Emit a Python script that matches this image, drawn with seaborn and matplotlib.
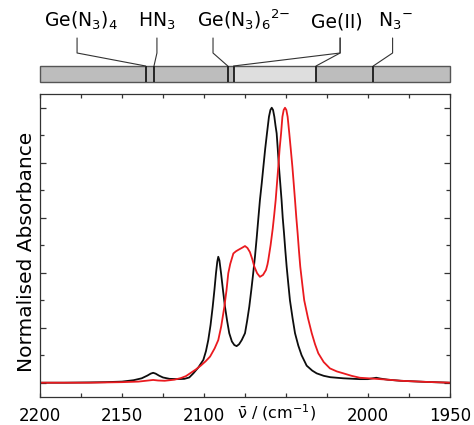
import pandas as pd
import matplotlib
matplotlib.use("Agg")
import matplotlib.pyplot as plt
import seaborn as sns
from matplotlib.patches import Rectangle
from matplotlib.ticker import MultipleLocator

# ---------------------------
# spectra (wavenumber / cm-1, normalised absorbance)
# ---------------------------
black_wn = [2200, 2185, 2170, 2160, 2150, 2143, 2138, 2134.5, 2132.5, 2131, 2129.5, 2127.5,
            2125, 2121, 2116, 2112, 2109, 2106.5, 2103.5, 2100.4, 2098.8, 2097.4, 2096,
            2094.7, 2093.6, 2092.7, 2091.9, 2091.3, 2090.6, 2089.6, 2088.4, 2087.2, 2085.9,
            2084.6, 2083, 2081.5, 2080.1, 2078.6, 2077, 2075, 2073.7, 2072.4, 2071.1, 2070,
            2068.9, 2067.9, 2066.9, 2065.9, 2064.8, 2063.8, 2062.7, 2061.6, 2060.4, 2059.5,
            2058.7, 2057.9, 2057.1, 2056.4, 2055.7, 2055, 2054.3, 2053.5, 2052.7, 2052,
            2051.2, 2050.4, 2049.6, 2048.6, 2047.6, 2046, 2044.5, 2042.5, 2040.5, 2037.4,
            2034, 2031.3, 2027, 2023, 2015, 2005, 2000, 1997, 1995, 1992.5, 1988, 1980,
            1965, 1950]
black_abs = [0.000, 0.000, 0.001, 0.002, 0.004, 0.009, 0.016, 0.026, 0.033, 0.036, 0.033, 0.026,
             0.019, 0.014, 0.013, 0.014, 0.019, 0.034, 0.055, 0.083, 0.115, 0.155, 0.210,
             0.276, 0.340, 0.398, 0.440, 0.458, 0.445, 0.398, 0.335, 0.276, 0.225,
             0.180, 0.150, 0.137, 0.133, 0.140, 0.155, 0.180, 0.225, 0.276, 0.340, 0.398,
             0.460, 0.525, 0.595, 0.664, 0.725, 0.785, 0.850, 0.907, 0.967, 0.992,
             1.000, 0.992, 0.967, 0.935, 0.907, 0.848, 0.785, 0.725, 0.664, 0.600,
             0.543, 0.480, 0.422, 0.360, 0.300, 0.235, 0.180, 0.135, 0.100, 0.062,
             0.044, 0.034, 0.025, 0.020, 0.016, 0.013, 0.013, 0.016, 0.018, 0.015, 0.011, 0.007,
             0.003, 0.000]

red_wn = [2200, 2170, 2150, 2140, 2134, 2131, 2128, 2124, 2118, 2114, 2111, 2108.5, 2105,
          2102, 2099, 2096.3, 2093.5, 2091.3, 2089.5, 2087.6, 2086.3, 2085.2, 2084, 2082.1,
          2080.5, 2079.1, 2077, 2075, 2073.5, 2072, 2070.6, 2069.3, 2067.6, 2065.9, 2064,
          2062.2, 2061.3, 2060.8, 2059.4, 2058.1, 2057.2, 2056.3, 2055.5, 2054.7, 2053.9,
          2053, 2052.2, 2051.4, 2050.6, 2049.8, 2049, 2048, 2047.1, 2046.1, 2045.3, 2044.5,
          2043.7, 2042.9, 2042.1, 2041.3, 2040.1, 2038.9, 2036.6, 2034.3, 2032.3, 2030.3,
          2027, 2023.2, 2019, 2015, 2010, 2005, 2000, 1995, 1988, 1980, 1965, 1950]
red_abs = [0.000, 0.000, 0.002, 0.004, 0.008, 0.010, 0.008, 0.007, 0.011, 0.017, 0.024, 0.034, 0.048,
           0.062, 0.078, 0.095, 0.125, 0.155, 0.205, 0.276, 0.335, 0.398, 0.432, 0.470,
           0.478, 0.483, 0.490, 0.497, 0.490, 0.475, 0.450, 0.422, 0.398, 0.385, 0.392,
           0.410, 0.430, 0.446, 0.500, 0.560, 0.610, 0.664, 0.725, 0.785, 0.850,
           0.907, 0.967, 0.992, 1.000, 0.992, 0.967, 0.907, 0.850, 0.785, 0.725, 0.664,
           0.600, 0.543, 0.480, 0.422, 0.360, 0.300, 0.235, 0.180, 0.140, 0.107,
           0.075, 0.052, 0.041, 0.034, 0.025, 0.018, 0.016, 0.014, 0.011, 0.007, 0.003, 0.000]

# reference band positions shown in the bar above the plot
species = ["Ge(N$_3$)$_4$", "HN$_3$", "Ge(N$_3$)$_6$$^{2{-}}$", "Ge(II)", "N$_3$$^{-}$"]
species_bands = [[2135.6], [2130.5], [2085.5], [2082.0, 2031.7], [1996.8]]
label_x = [2175, 2128.7, 2076.2, 2018.9, 1983.5]       # text centre
stem_x = [2177.4, 2128.7, 2094.5, 2017.0, 1985.0]      # where the leader line leaves the text
light_range = (2082.0, 2031.7)

tick_pos = [2200, 2150, 2100, 2050, 2000, 1950]
tick_lab = ["2200", "2150", "2100", "", "2000", "1950"]

df = pd.concat([
    pd.DataFrame({"wn": black_wn, "A": black_abs, "sample": "black"}),
    pd.DataFrame({"wn": red_wn, "A": red_abs, "sample": "red"}),
])

sns.set_style("ticks")
plt.rcParams["font.family"] = ["DejaVu Sans"]
plt.rcParams["mathtext.default"] = "regular"
plt.rcParams["text.color"] = "black"
plt.rcParams["axes.labelcolor"] = "black"
plt.rcParams["xtick.color"] = "black"
plt.rcParams["ytick.color"] = "black"

fig = plt.figure(figsize=(4.74, 4.25), dpi=100)
ax = fig.add_axes([40 / 474, 28 / 425, 410 / 474, 303 / 425])
ax_top = fig.add_axes([40 / 474, 335 / 425, 410 / 474, 90 / 425])

# ---------------------------
# main spectrum panel
# ---------------------------
sns.lineplot(data=df, x="wn", y="A", hue="sample", hue_order=["black", "red"],
             palette={"black": "#0d0d0d", "red": "#ea1a1f"}, estimator=None,
             linewidth=1.3, legend=False, ax=ax)

ax.set_xlim(2200, 1950)
ax.set_ylim(-0.052, 1.05)
ax.set_xticks(tick_pos, tick_lab)
ax.xaxis.set_minor_locator(MultipleLocator(25))
ax.yaxis.set_major_locator(MultipleLocator(0.2))
ax.yaxis.set_minor_locator(MultipleLocator(0.1))
ax.tick_params(which="both", direction="in", top=True, right=True, labelleft=False,
               color="#333333", width=0.9)
ax.tick_params(axis="x", which="both", length=3, labelsize=12, pad=7)
ax.tick_params(axis="y", which="major", length=4)
ax.tick_params(axis="y", which="minor", length=3)
for s in ax.spines.values():
    s.set_color("#333333")
    s.set_linewidth(0.9)

ax.set_xlabel(r"$\bar{\nu}$ / (cm$^{-1}$)", fontsize=11.5)
ax.xaxis.set_label_coords(0.578, -0.016)
ax.set_ylabel("Normalised Absorbance", fontsize=14.5)
ax.yaxis.set_label_coords(-0.01, 0.478)

# ---------------------------
# band assignment bar
# ---------------------------
ax_top.set_xlim(2200, 1950)
ax_top.set_ylim(90, 0)
ax_top.axis("off")

bar_y0, bar_h = 66, 15.7
ax_top.add_patch(Rectangle((1950, bar_y0), 250, bar_h, facecolor="#bdbdbd",
                           edgecolor="none", clip_on=False))
ax_top.add_patch(Rectangle((light_range[1], bar_y0), light_range[0] - light_range[1], bar_h,
                           facecolor="#dedede", edgecolor="none", clip_on=False))
ax_top.add_patch(Rectangle((1950, bar_y0), 250, bar_h, facecolor="none",
                           edgecolor="#555555", linewidth=1.0, clip_on=False))

for name, bands, lx, sx in zip(species, species_bands, label_x, stem_x):
    ax_top.vlines(bands, bar_y0, bar_y0 + bar_h, colors="#1a1a1a", linewidth=1.3)
    for b in bands:
        ax_top.plot([sx, sx, b], [38, 53, bar_y0], color="#333333", linewidth=0.8)
    ax_top.text(lx, 27, name, ha="center", va="baseline", fontsize=13.5)

plt.savefig("out.png", dpi=100)
